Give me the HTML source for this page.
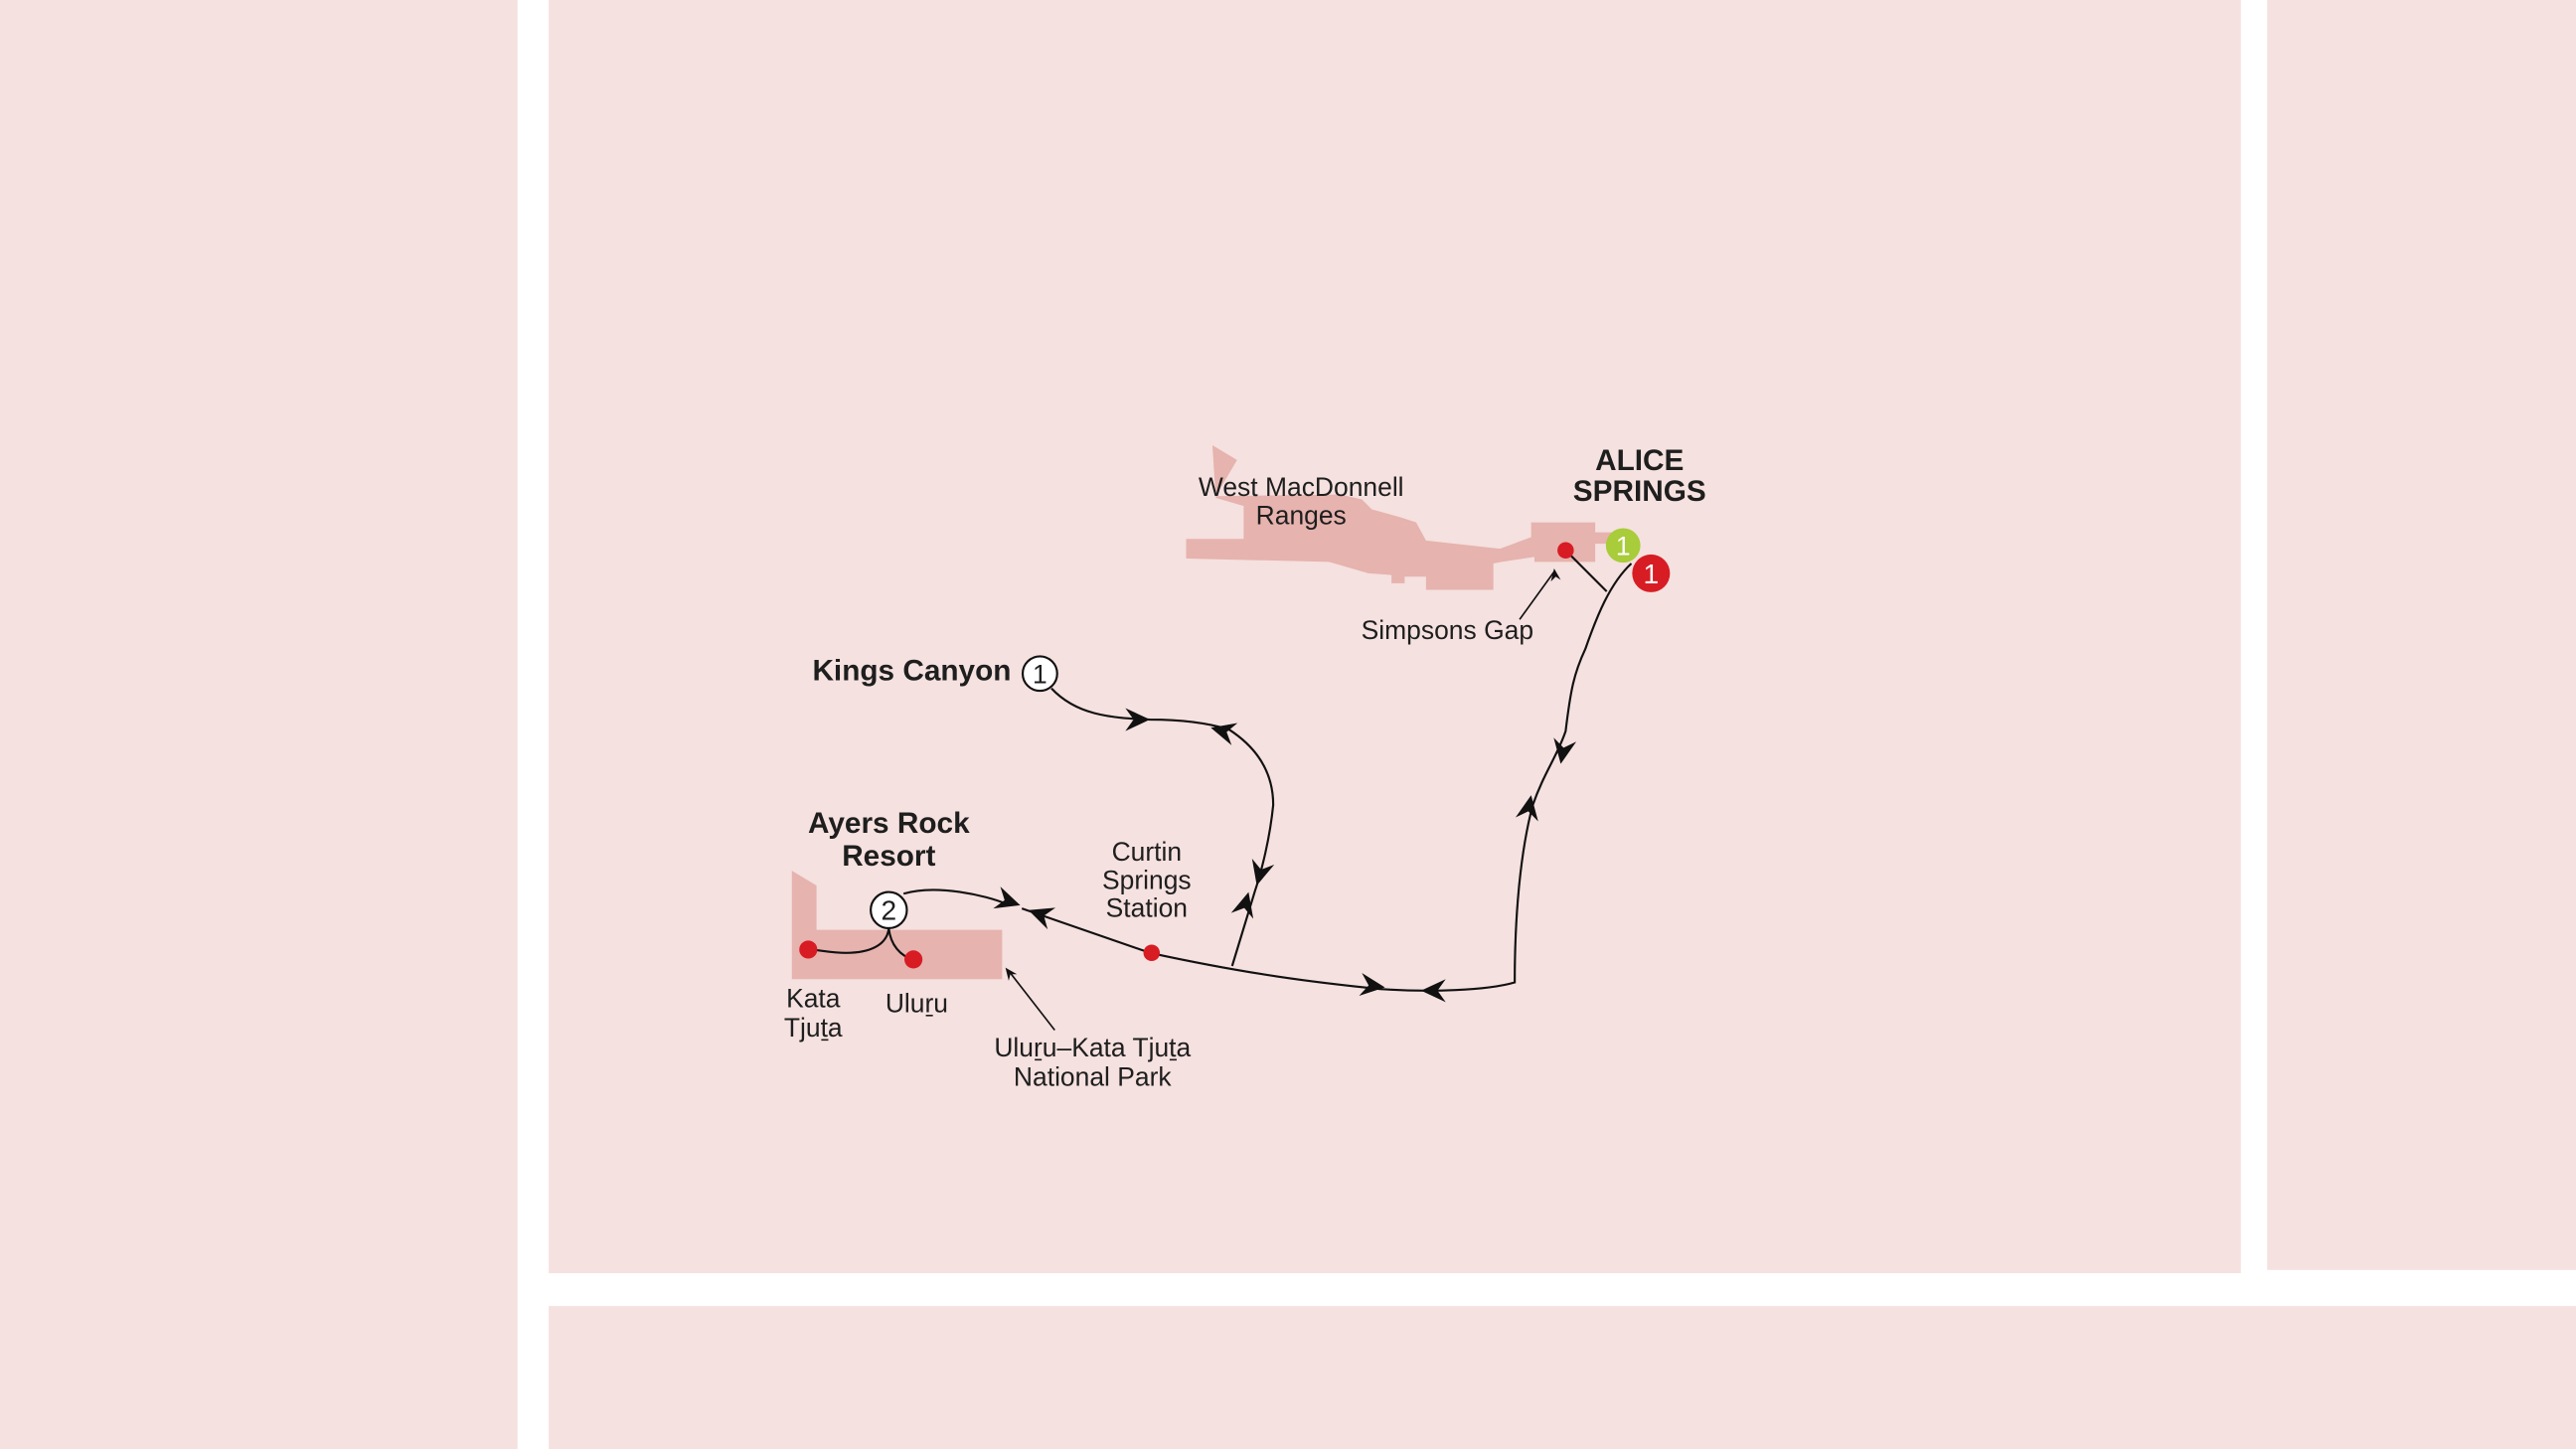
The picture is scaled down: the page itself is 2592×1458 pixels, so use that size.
<!DOCTYPE html>
<html><head><meta charset="utf-8"><style>
html,body{margin:0;padding:0;background:#fff;}
svg{display:block;}
text{font-family:"Liberation Sans",sans-serif;fill:#1e1e1e;}
</style></head><body>
<svg width="2592" height="1458" viewBox="0 0 1568 882" xmlns="http://www.w3.org/2000/svg">
<rect x="0" y="0" width="1568" height="882" fill="#fff"/>
<g fill="#f5e1df">
<rect x="0" y="0" width="315" height="882"/>
<rect x="334" y="0" width="1030" height="775"/>
<rect x="1380" y="0" width="188" height="773"/>
<rect x="334" y="795" width="1234" height="87"/>
</g>
<g fill="#e6b3ae">
<path d="M738,271 L753,280 L740,302 L816,301 L829,304 L835,310 L853,315 L862,318 L868,329 L913,334 L932,327 L932,318 L971,318 L971,324 L981,324 L981,331 L971,331 L971,342 L934,342 L934,339 L914,342 L909,343 L909,359 L868,359 L868,351 L855,351 L855,355 L847,355 L847,350 L833,349 L809,342 L722,340 L722,328 L757,328 L757,308 L740,303 Z"/>
<path d="M482,530 L497,539 L497,566 L610,566 L610,596 L482,596 Z"/>
</g>
<g fill="none" stroke="#111" stroke-width="1.3">
<path d="M640,419 C655,435 675,437 700,438 C720,438 735,440 748,444 C765,455 775,470 775,490 C773,510 768,530 764,542 L750,588"/>
<path d="M550,544 C570,538 600,545 612,550"/>
<path d="M622,553 L700,580 C760,593 800,598 840,602 C870,604 905,603 922,598 C922,560 925,520 933,490 C940,470 948,460 953,445 C956,420 958,410 965,395 C972,375 980,355 993,343"/>
<path d="M953,335 L978,360"/>
<path d="M541,565 C540,575 530,580 515,580 C505,580 498,578 492,578"/>
<path d="M541,565 C542,575 548,582 556,584"/>
<path d="M925,377 L946,348" stroke-width="1"/>
<path d="M642,627 L614,591" stroke-width="1"/>
</g>
<g fill="#111">
<path d="M946,346 L944,354 L947,351 L950,353 Z"/>
<path d="M612,589 L614,597 L615,593 L619,593 Z"/>
<path d="M0,0 L-15,-7 L-10,0 L-15,7 Z" transform="translate(700,438)"/>
<path d="M0,0 L-15,-7 L-10,0 L-15,7 Z" transform="translate(737,443) rotate(195)"/>
<path d="M0,0 L-15,-7 L-10,0 L-15,7 Z" transform="translate(765,539) rotate(105)"/>
<path d="M0,0 L-15,-7 L-10,0 L-15,7 Z" transform="translate(760,543) rotate(-75)"/>
<path d="M0,0 L-15,-7 L-10,0 L-15,7 Z" transform="translate(843,601) rotate(7)"/>
<path d="M0,0 L-15,-7 L-10,0 L-15,7 Z" transform="translate(865,603) rotate(180)"/>
<path d="M0,0 L-15,-7 L-10,0 L-15,7 Z" transform="translate(932,484) rotate(-80)"/>
<path d="M0,0 L-15,-7 L-10,0 L-15,7 Z" transform="translate(950,465) rotate(100)"/>
<path d="M0,0 L-15,-7 L-10,0 L-15,7 Z" transform="translate(621,551) rotate(18)"/>
<path d="M0,0 L-15,-7 L-10,0 L-15,7 Z" transform="translate(626,554) rotate(200)"/>
</g>
<g fill="#d81c24">
<circle cx="953" cy="335" r="5"/>
<circle cx="701" cy="580" r="5"/>
<circle cx="492" cy="578" r="5.5"/>
<circle cx="556" cy="584" r="5.5"/>
</g>
<circle cx="633" cy="410" r="10.5" fill="#fff" stroke="#111" stroke-width="1.3"/>
<text x="633" y="416" font-size="16" text-anchor="middle">1</text>
<circle cx="541" cy="554" r="11" fill="#fff" stroke="#111" stroke-width="1.3"/>
<text x="541" y="560" font-size="17" text-anchor="middle">2</text>
<circle cx="988" cy="332" r="10.5" fill="#a8cc3a"/>
<text x="988" y="338" font-size="16" text-anchor="middle" style="fill:#fff">1</text>
<circle cx="1005" cy="349" r="11.5" fill="#d81c24"/>
<text x="1005" y="355" font-size="17" text-anchor="middle" style="fill:#fff">1</text>
<g font-size="16" text-anchor="middle">
<text x="792" y="302">West MacDonnell</text>
<text x="792" y="319">Ranges</text>
<text x="881" y="389">Simpsons Gap</text>
<text x="698" y="524">Curtin</text>
<text x="698" y="541">Springs</text>
<text x="698" y="558">Station</text>
<text x="495" y="613">Kata</text>
<text x="495" y="631">Tjuṯa</text>
<text x="558" y="616">Uluṟu</text>
<text x="665" y="643">Uluṟu–Kata Tjuṯa</text>
<text x="665" y="661">National Park</text>
</g>
<g font-size="18" font-weight="bold" text-anchor="middle">
<text x="998" y="286">ALICE</text>
<text x="998" y="305">SPRINGS</text>
<text x="555" y="414">Kings Canyon</text>
<text x="541" y="507">Ayers Rock</text>
<text x="541" y="527">Resort</text>
</g>
</svg>
</body></html>
